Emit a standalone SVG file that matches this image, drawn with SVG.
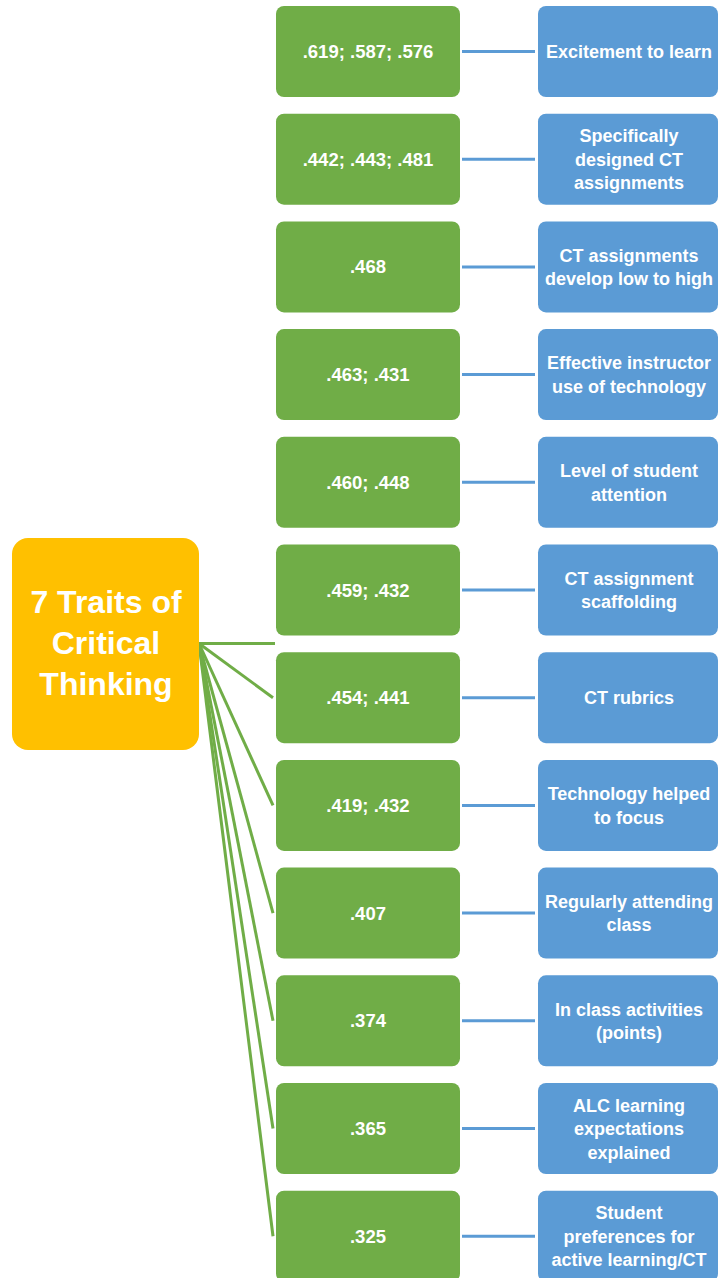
<svg xmlns="http://www.w3.org/2000/svg" width="718" height="1278" viewBox="0 0 718 1278">
<style>
.g{fill:#70AD47}
.b{fill:#5B9BD5}
.t{fill:#fff;font-family:"Liberation Sans",Arial,sans-serif;font-weight:bold;font-size:18px;text-anchor:middle}
.n{font-size:18.5px}
.big{font-size:32px}
.cg{stroke:#70AD47;stroke-width:3;fill:none}
.cb{stroke:#5B9BD5;stroke-width:3;fill:none}
</style>
<rect width="718" height="1278" fill="#fff"/>
<g id="connectors">
<line class="cb" x1="462" y1="51.5" x2="535" y2="51.5"/>
<line class="cb" x1="462" y1="159.2" x2="535" y2="159.2"/>
<line class="cb" x1="462" y1="266.9" x2="535" y2="266.9"/>
<line class="cb" x1="462" y1="374.6" x2="535" y2="374.6"/>
<line class="cb" x1="462" y1="482.3" x2="535" y2="482.3"/>
<line class="cb" x1="462" y1="590" x2="535" y2="590"/>
<line class="cb" x1="462" y1="697.7" x2="535" y2="697.7"/>
<line class="cb" x1="462" y1="805.4" x2="535" y2="805.4"/>
<line class="cb" x1="462" y1="913.1" x2="535" y2="913.1"/>
<line class="cb" x1="462" y1="1020.8" x2="535" y2="1020.8"/>
<line class="cb" x1="462" y1="1128.5" x2="535" y2="1128.5"/>
<line class="cb" x1="462" y1="1236.2" x2="535" y2="1236.2"/>
<line class="cg" x1="199" y1="643.5" x2="275" y2="643.5"/>
<line class="cg" x1="199" y1="643.5" x2="273" y2="697.7"/>
<line class="cg" x1="199" y1="643.5" x2="273" y2="805.4"/>
<line class="cg" x1="199" y1="643.5" x2="273" y2="913.1"/>
<line class="cg" x1="199" y1="643.5" x2="273" y2="1020.8"/>
<line class="cg" x1="199" y1="643.5" x2="273" y2="1128.5"/>
<line class="cg" x1="199" y1="643.5" x2="273" y2="1236.2"/>
</g>
<g id="traits">
<rect x="12" y="538" width="187" height="212" rx="16" fill="#FFC000"/>
<text class="t big" x="106" y="613">7 Traits of</text>
<text class="t big" x="106" y="654">Critical</text>
<text class="t big" x="106" y="695">Thinking</text>
</g>
<g id="v1"><rect class="g" x="276" y="6" width="184" height="91" rx="8"/><text class="t n" x="368" y="58">.619; .587; .576</text></g>
<g id="v2"><rect class="g" x="276" y="113.7" width="184" height="91" rx="8"/><text class="t n" x="368" y="165.7">.442; .443; .481</text></g>
<g id="v3"><rect class="g" x="276" y="221.4" width="184" height="91" rx="8"/><text class="t n" x="368" y="273.4">.468</text></g>
<g id="v4"><rect class="g" x="276" y="329.1" width="184" height="91" rx="8"/><text class="t n" x="368" y="381.1">.463; .431</text></g>
<g id="v5"><rect class="g" x="276" y="436.8" width="184" height="91" rx="8"/><text class="t n" x="368" y="488.8">.460; .448</text></g>
<g id="v6"><rect class="g" x="276" y="544.5" width="184" height="91" rx="8"/><text class="t n" x="368" y="596.5">.459; .432</text></g>
<g id="v7"><rect class="g" x="276" y="652.2" width="184" height="91" rx="8"/><text class="t n" x="368" y="704.2">.454; .441</text></g>
<g id="v8"><rect class="g" x="276" y="759.9" width="184" height="91" rx="8"/><text class="t n" x="368" y="811.9">.419; .432</text></g>
<g id="v9"><rect class="g" x="276" y="867.6" width="184" height="91" rx="8"/><text class="t n" x="368" y="919.6">.407</text></g>
<g id="v10"><rect class="g" x="276" y="975.3" width="184" height="91" rx="8"/><text class="t n" x="368" y="1027.3">.374</text></g>
<g id="v11"><rect class="g" x="276" y="1083" width="184" height="91" rx="8"/><text class="t n" x="368" y="1135">.365</text></g>
<g id="v12"><rect class="g" x="276" y="1190.7" width="184" height="91" rx="8"/><text class="t n" x="368" y="1242.7">.325</text></g>
<g id="f1"><rect class="b" x="538" y="6" width="180" height="91" rx="8"/><text class="t" x="629" y="58">Excitement to learn</text></g>
<g id="f2"><rect class="b" x="538" y="113.7" width="180" height="91" rx="8"/><text class="t" x="629" y="142.2">Specifically</text><text class="t" x="629" y="165.7">designed CT</text><text class="t" x="629" y="189.2">assignments</text></g>
<g id="f3"><rect class="b" x="538" y="221.4" width="180" height="91" rx="8"/><text class="t" x="629" y="261.7">CT assignments</text><text class="t" x="629" y="285.2">develop low to high</text></g>
<g id="f4"><rect class="b" x="538" y="329.1" width="180" height="91" rx="8"/><text class="t" x="629" y="369.4">Effective instructor</text><text class="t" x="629" y="392.9">use of technology</text></g>
<g id="f5"><rect class="b" x="538" y="436.8" width="180" height="91" rx="8"/><text class="t" x="629" y="477.1">Level of student</text><text class="t" x="629" y="500.6">attention</text></g>
<g id="f6"><rect class="b" x="538" y="544.5" width="180" height="91" rx="8"/><text class="t" x="629" y="584.8">CT assignment</text><text class="t" x="629" y="608.3">scaffolding</text></g>
<g id="f7"><rect class="b" x="538" y="652.2" width="180" height="91" rx="8"/><text class="t" x="629" y="704.2">CT rubrics</text></g>
<g id="f8"><rect class="b" x="538" y="759.9" width="180" height="91" rx="8"/><text class="t" x="629" y="800.2">Technology helped</text><text class="t" x="629" y="823.7">to focus</text></g>
<g id="f9"><rect class="b" x="538" y="867.6" width="180" height="91" rx="8"/><text class="t" x="629" y="907.9">Regularly attending</text><text class="t" x="629" y="931.4">class</text></g>
<g id="f10"><rect class="b" x="538" y="975.3" width="180" height="91" rx="8"/><text class="t" x="629" y="1015.6">In class activities</text><text class="t" x="629" y="1039.1">(points)</text></g>
<g id="f11"><rect class="b" x="538" y="1083" width="180" height="91" rx="8"/><text class="t" x="629" y="1111.5">ALC learning</text><text class="t" x="629" y="1135">expectations</text><text class="t" x="629" y="1158.5">explained</text></g>
<g id="f12"><rect class="b" x="538" y="1190.7" width="180" height="91" rx="8"/><text class="t" x="629" y="1219.2">Student</text><text class="t" x="629" y="1242.7">preferences for</text><text class="t" x="629" y="1266.2">active learning/CT</text></g>
</svg>
